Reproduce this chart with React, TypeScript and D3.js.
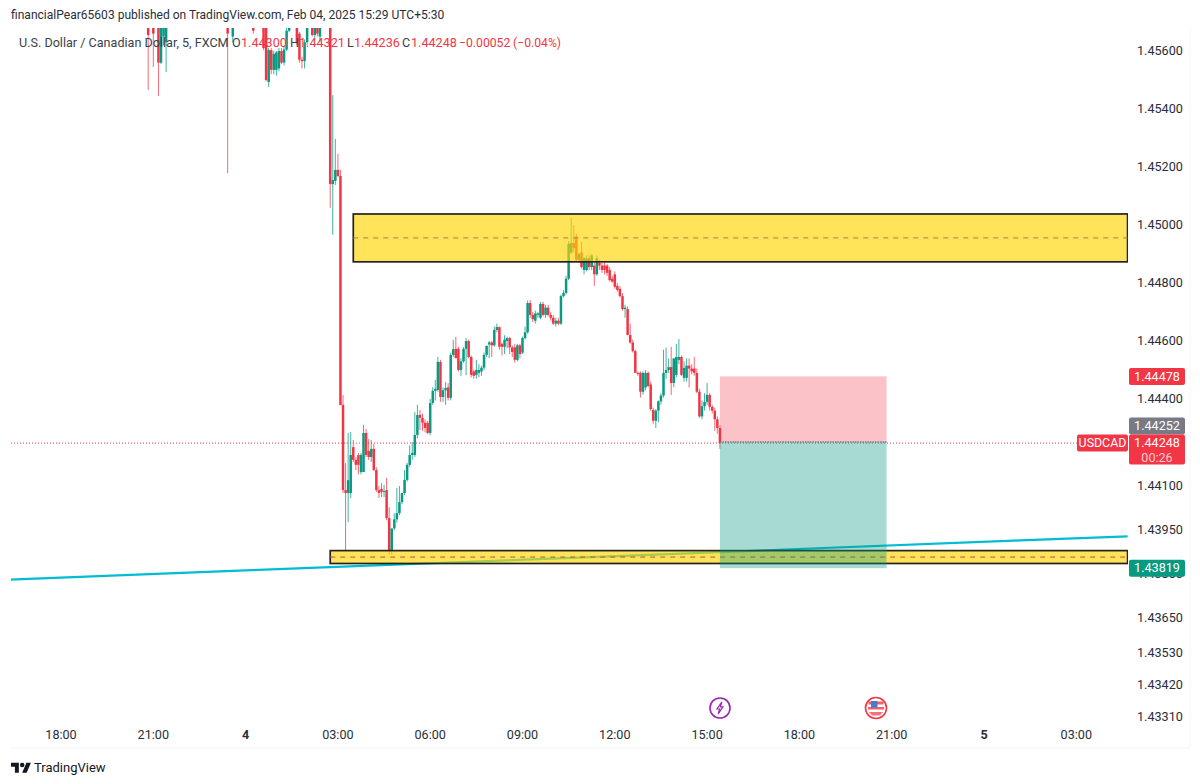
import * as d3 from 'd3';

// All prices are in points above 1.44000 (1 point = 0.00001)
type Bar = number[]; // open, high, low, close

// scattered bars before the drop, these carry their own 5 minute slot in front
const overnightBars = [
  [34, 1700, 1710, 1466, 1655], [36, 1680, 1700, 1545, 1660], [38, 1690, 1710, 1445, 1560],
  [39, 1560, 1700, 1555, 1680], [40, 1650, 1700, 1620, 1690], [41, 1630, 1700, 1528, 1680],
  [65, 1700, 1710, 1179, 1660], [67, 1650, 1700, 1630, 1690], [75, 1700, 1710, 1660, 1670],
  [79, 1700, 1710, 1603, 1610], [80, 1680, 1685, 1495, 1500], [81, 1493, 1610, 1476, 1603],
  [82, 1603, 1610, 1520, 1535], [83, 1535, 1600, 1520, 1590], [84, 1535, 1600, 1515, 1595],
  [85, 1540, 1610, 1530, 1600], [86, 1600, 1610, 1555, 1560], [87, 1560, 1615, 1550, 1605],
  [88, 1605, 1680, 1600, 1670], [89, 1670, 1700, 1665, 1695], [92, 1690, 1700, 1620, 1630],
  [93, 1660, 1665, 1560, 1570], [94, 1570, 1580, 1540, 1565], [95, 1565, 1640, 1540, 1630],
  [96, 1630, 1690, 1620, 1680], [98, 1690, 1700, 1650, 1655], [99, 1655, 1700, 1640, 1690],
  [100, 1690, 1700, 1650, 1660], [101, 1650, 1700, 1630, 1690],
];

// consecutive bars from slot 105 on
const dropBars: Bar[] = [
  [1700, 1710, 1059, 1141], [1141, 1448, 966, 1155], [1152, 1297, 1138, 1190], [1190, 1245, 1165, 1169],
  [1169, 1190, 379, 379], [380, 414, 76, 86], [86, 179, -121, 76], [76, 283, -24, 120],
  [76, 286, 59, 207], [234, 259, 183, 190], [190, 200, 155, 173], [207, 214, 140, 173],
  [148, 214, 140, 207], [148, 311, 148, 283], [283, 297, 200, 207], [221, 262, 190, 200],
  [200, 259, 183, 228], [228, 245, 152, 155], [155, 165, 80, 86], [86, 100, 59, 76],
  [90, 110, 62, 80], [80, 104, 62, 83], [86, 128, -17, -10], [-10, 28, -135, -121],
  [-121, -100, -135, -45], [-45, 7, -52, -14], [-14, 93, -25, 7], [7, 100, 0, 45],
  [45, 76, 38, 76], [76, 155, 70, 121], [121, 180, 115, 173], [173, 240, 165, 207],
  [207, 252, 190, 214], [207, 355, 200, 276], [276, 380, 265, 345], [345, 362, 293, 335],
  [335, 350, 290, 318], [318, 330, 285, 300], [318, 325, 279, 283],
];

const climbBars: Bar[] = [
  [283, 400, 275, 386], [386, 441, 380, 428], [428, 466, 395, 435], [431, 545, 425, 528],
  [528, 535, 390, 407], [407, 440, 390, 430], [430, 459, 380, 438], [440, 455, 395, 404],
  [404, 560, 395, 552], [552, 604, 545, 572], [573, 614, 540, 541], [573, 580, 495, 500],
  [500, 540, 480, 530], [530, 580, 525, 573], [573, 610, 482, 600], [600, 605, 540, 545],
  [545, 550, 475, 483], [495, 500, 470, 480], [483, 535, 470, 500], [490, 520, 475, 500],
  [495, 515, 480, 508], [508, 560, 500, 552], [552, 585, 545, 583], [588, 600, 541, 595],
  [595, 600, 545, 585], [585, 650, 580, 638], [638, 660, 630, 648], [648, 650, 570, 580],
  [590, 595, 550, 580], [580, 620, 555, 605], [600, 615, 575, 610], [610, 615, 555, 578],
  [578, 585, 545, 562], [578, 590, 525, 535], [535, 590, 530, 585], [585, 590, 540, 555],
  [560, 615, 555, 610], [610, 650, 605, 630], [630, 740, 625, 731], [731, 741, 680, 690],
  [690, 700, 665, 675], [670, 705, 660, 695], [690, 700, 680, 695], [680, 735, 675, 728],
  [728, 735, 685, 690], [690, 725, 680, 715], [715, 725, 685, 690], [690, 700, 670, 680],
  [680, 690, 655, 660], [660, 680, 650, 670], [670, 680, 655, 660], [660, 760, 655, 755],
  [755, 775, 750, 766], [766, 825, 760, 815],
];

const peakBars: Bar[] = [
  [815, 945, 810, 935], [905, 1024, 900, 938], [938, 1000, 905, 920], [960, 970, 875, 880],
  [880, 905, 870, 900], [905, 942, 850, 855], [845, 890, 830, 885], [845, 895, 840, 885],
  [885, 895, 845, 855], [855, 900, 845, 895], [860, 870, 790, 830], [830, 895, 825, 885],
  [870, 880, 845, 860], [860, 870, 835, 845], [860, 875, 830, 845], [860, 865, 825, 835],
  [845, 855, 805, 810], [815, 825, 800, 805], [830, 840, 780, 787], [790, 800, 770, 776],
  [780, 790, 750, 755], [755, 765, 705, 710], [710, 725, 680, 715],
];

const selloffBars: Bar[] = [
  [710, 720, 620, 621], [621, 660, 590, 595], [595, 605, 560, 565], [565, 570, 490, 490],
  [490, 495, 480, 486], [490, 495, 405, 425], [425, 495, 415, 490], [440, 500, 430, 490],
  [490, 495, 440, 445], [450, 460, 360, 365], [362, 370, 315, 325], [325, 365, 300, 360],
  [360, 395, 320, 392], [392, 420, 380, 412], [412, 570, 405, 490], [490, 577, 470, 500],
  [500, 540, 490, 510], [510, 580, 414, 455], [455, 540, 440, 540], [483, 590, 475, 545],
  [535, 607, 520, 545], [545, 550, 480, 483], [473, 530, 460, 507], [473, 540, 460, 515],
  [515, 540, 440, 505], [505, 520, 485, 495], [505, 545, 480, 490], [490, 505, 420, 425],
  [425, 435, 335, 340], [340, 395, 330, 375], [375, 420, 360, 390], [390, 455, 380, 414],
  [414, 420, 360, 373], [373, 380, 350, 360], [360, 370, 290, 330], [330, 340, 280, 300],
  [300, 310, 228, 248],
];

// price axis
const priceTicks = [1.456, 1.454, 1.452, 1.45, 1.448, 1.446, 1.444, 1.441, 1.4395, 1.438, 1.4365, 1.4353, 1.4342, 1.4331];
// time axis, one label every 36 slots (3 hours)
const timeLabels = ['18:00', '21:00', '4', '03:00', '06:00', '09:00', '12:00', '15:00', '18:00', '21:00', '5', '03:00'];

// drawings: [start slot, end slot, top, bottom]
const supplyZone = [114, 416, 1038, 873];
const demandZone = [105, 416, -121, -165];
const trendSlots = [-20, 416];
const trendPrices = [-220, -72];
const positionSlots = [257, 322];
const entryPrice = 252;
const stopPrice = 478;
const targetPrice = -181;
const lastPrice = 248;

const RED = '#f23645';
const GREEN = '#089981';
const FONT = 'Roboto, sans-serif';
const paneRight = 1128;

// y is a tad stretched under 1.441 in the picture, hence three stops
const y = d3.scaleLinear().domain([1600, 100, -690]).range([51, 486, 717]);
const x = d3.scaleLinear().domain([0, 36]).range([61, 153.3]);
const yTick = (v: number) => y((v - 1.44) * 1e5);
const fmt = (points: number) => d3.format('.5f')(1.44 + points / 1e5);

const bars: Bar[] = [
  ...overnightBars,
  ...[...dropBars, ...climbBars, ...peakBars, ...selloffBars].map((b, i) => [105 + i, ...b]),
];

function Zone({ zone, dash }: { zone: number[]; dash: string }) {
  const [s0, s1, top, bottom] = zone;
  const mid = (top + bottom) / 2;
  return (
    <g>
      <rect x={x(s0)} y={y(top)} width={x(s1) - x(s0)} height={y(bottom) - y(top)}
        fill="#ffd500" fillOpacity={0.65} stroke="#222" strokeWidth={1.7} />
      <line x1={x(s0)} x2={x(s1)} y1={y(mid)} y2={y(mid)} stroke={dash} strokeWidth={1} strokeDasharray="5 5" />
    </g>
  );
}

function PriceTag({ cy, fill, text, h = 17 }: { cy: number; fill: string; text: string; h?: number }) {
  return (
    <g>
      <rect x={1129} y={cy - 8.5} width={56} height={h} rx={2} fill={fill} />
      <text x={1157} y={cy + 4.3} textAnchor="middle" fontSize={12.6} fill="#fff">{text}</text>
    </g>
  );
}

export default function App() {
  const legendGrey = '#3b3f4a';
  return (
    <svg width={1200} height={784} style={{ position: 'absolute', left: 0, top: 0, background: '#fff' }} fontFamily={FONT}>
      <defs>
        <clipPath id="pane"><rect x={11} y={28} width={paneRight - 11} height={720} /></clipPath>
        <filter id="soft" x="-5%" y="-5%" width="110%" height="110%"><feGaussianBlur stdDeviation="0.35" /></filter>
      </defs>

      {/* faint frame of the snapshot */}
      <line x1={11} x2={1190} y1={748} y2={748} stroke="#f2f3f5" strokeWidth={1} />
      <line x1={1190} x2={1190} y1={28} y2={748} stroke="#f6f7f8" strokeWidth={1} />

      <text x={11} y={19} fontSize={12.05} fill="#2a2e39">financialPear65603 published on TradingView.com, Feb 04, 2025 15:29 UTC+5:30</text>

      <g clipPath="url(#pane)">
        <line x1={11} x2={paneRight} y1={y(lastPrice)} y2={y(lastPrice)} stroke={RED} strokeWidth={1} strokeDasharray="1 2" />
        <g filter="url(#soft)">
          <line x1={x(trendSlots[0])} x2={x(trendSlots[1])} y1={y(trendPrices[0])} y2={y(trendPrices[1])}
            stroke="#00bcd4" strokeWidth={2.2} />
          {bars.map(([slot, open, high, low, close]) => {
            const colour = close >= open ? GREEN : RED;
            const cx = x(slot);
            return (
              <g key={slot} fill={colour} stroke={colour}>
                <line x1={cx} x2={cx} y1={y(high)} y2={y(low)} strokeWidth={1} strokeOpacity={0.75} />
                <rect x={cx - 1.25} width={2.5} y={y(Math.max(open, close))}
                  height={Math.max(1, Math.abs(y(open) - y(close)))} stroke="none" />
              </g>
            );
          })}
        </g>
        <Zone zone={supplyZone} dash="#b87a45" />
        <Zone zone={demandZone} dash="#b8503f" />
        <rect x={x(positionSlots[0])} width={x(positionSlots[1]) - x(positionSlots[0])}
          y={y(stopPrice)} height={y(entryPrice) - y(stopPrice)} fill={RED} fillOpacity={0.3} />
        <rect x={x(positionSlots[0])} width={x(positionSlots[1]) - x(positionSlots[0])}
          y={y(entryPrice)} height={y(targetPrice) - y(entryPrice)} fill={GREEN} fillOpacity={0.36} />
        <line x1={x(positionSlots[0])} x2={x(positionSlots[1])} y1={y(entryPrice)} y2={y(entryPrice)}
          stroke="#787b86" strokeWidth={1.5} strokeDasharray="1.5 1" />
      </g>

      {/* legend sits on the candles */}
      <g fontSize={12.6} fill={legendGrey}>
        <text x={19} y={47}>U.S. Dollar / Canadian Dollar, 5, FXCM</text>
        <text x={232} y={47}>O</text>
        <text x={241} y={47} fill={RED}>1.44300</text>
        <text x={290} y={47}>H</text>
        <text x={299} y={47} fill={RED}>1.44321</text>
        <text x={347} y={47}>L</text>
        <text x={354} y={47} fill={RED}>1.44236</text>
        <text x={402} y={47}>C</text>
        <text x={411} y={47} fill={RED}>1.44248</text>
        <text x={459} y={47} fontSize={12.2} fill={RED}>−0.00052</text>
        <text x={513} y={47} fontSize={12.2} fill={RED}>(−0.04%)</text>
      </g>

      {priceTicks.map(t => (
        <text key={t} x={1137} y={yTick(t) + 4.3} fontSize={12.6} fill="#2a2e39">{t.toFixed(5)}</text>
      ))}

      {timeLabels.map((label, i) => (
        <text key={i} x={x(i * 36)} y={739} textAnchor="middle" fontSize={12.6}
          fontWeight={label.length === 1 ? 700 : 400} fill="#2a2e39">{label}</text>
      ))}

      <PriceTag cy={y(stopPrice)} fill={RED} text={fmt(stopPrice)} />
      <PriceTag cy={y(lastPrice) - 17} fill="#787b86" text={fmt(entryPrice)} />
      <PriceTag cy={y(lastPrice)} fill={RED} text={fmt(lastPrice)} h={30} />
      <text x={1157} y={y(lastPrice) + 18.5} textAnchor="middle" fontSize={12.6} fill="#ffc9ce">00:26</text>
      <PriceTag cy={y(targetPrice)} fill={GREEN} text={fmt(targetPrice)} />

      <rect x={1077} y={y(lastPrice) - 8.5} width={51} height={17} rx={2} fill={RED} />
      <text x={1102.5} y={y(lastPrice) + 4.3} textAnchor="middle" fontSize={12.4} fill="#fff">USDCAD</text>

      {/* event markers */}
      <g transform={`translate(${x(0) + 659},708)`}>
        <circle r={10} fill="#fff" stroke="#9c27b0" strokeWidth={1.6} />
        <path d="M1.8 -6 L-3 1 L-0.3 1 L-1.8 6 L3 -1.2 L0.4 -1.2 Z" fill="none" stroke="#9c27b0" strokeWidth={1.2} />
      </g>
      <g transform={`translate(${x(0) + 815},708)`}>
        <circle r={10.5} fill="#fff" stroke={RED} strokeWidth={1.6} />
        <rect x={-7.5} y={-6.5} width={15} height={3} fill={RED} fillOpacity={0.8} />
        <rect x={-8} y={-1} width={16} height={2.5} fill={RED} fillOpacity={0.8} />
        <path d="M-7 4 H7 L4 7.5 H-4 Z" fill={RED} fillOpacity={0.7} />
        <rect x={-5} y={-7} width={6.5} height={6.5} fill="#3f7fd0" />
      </g>

      {/* TradingView mark */}
      <g transform="translate(11,760.5) scale(0.56)" fill="#131722">
        <path d="M14 22H7V11H0V4h14v18zM28 22h-8l7.5-18h8L28 22z" />
        <circle cx={20} cy={8} r={4} />
      </g>
      <text x={34} y={772} fontSize={13} fill="#131722">TradingView</text>
    </svg>
  );
}
